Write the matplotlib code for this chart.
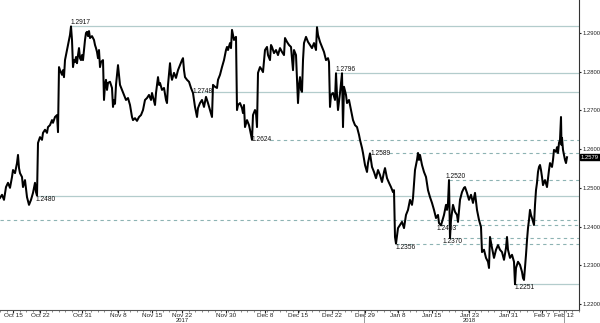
import matplotlib
matplotlib.use('Agg')
import matplotlib.pyplot as plt
import matplotlib.transforms as mtransforms
import numpy as np

plt.rcParams['font.family'] = ['Liberation Sans', 'DejaVu Sans']

# chart time position (trading-time axis) and price
t = [0, 2, 4, 6, 8, 10, 12, 13, 15, 17, 18, 19, 20, 22, 23, 25, 27, 29, 31, 33, 35, 36, 37,
     38, 40, 42, 43, 45, 47, 48, 50, 52, 53, 55, 57, 58, 59, 60, 62, 63, 64, 65, 66, 67, 68, 69, 70,
     71, 72, 73, 74, 75, 76, 77, 78, 79, 80, 81, 82, 83, 84, 85, 86, 87, 88, 89, 90, 92, 94, 95, 96,
     97, 98, 99, 100, 101, 103, 104, 105, 106, 107, 108, 110, 112, 113, 114, 115, 116, 117, 118, 119,
     120, 122, 124, 126, 128, 130, 132, 133, 135, 137, 139, 141, 143, 145, 147, 149, 151, 152, 153,
     155, 156, 158, 159, 160, 162, 164, 166, 167, 168, 170, 171, 172, 174, 176, 178, 180, 182, 183,
     184, 185, 187, 189, 191, 193, 195, 197, 198,
     200, 202, 204, 206, 208, 210, 212, 213, 215, 217, 218, 220, 222, 224, 226, 227, 228, 230, 231,
     232, 233, 234, 235, 236, 237, 238, 240, 242, 243, 244, 245, 247, 249, 250, 252, 253, 255, 256,
     257, 258, 260, 262, 263, 265, 267, 268, 270, 271, 272, 274, 276, 278, 280, 282, 284, 285, 287,
     289, 291, 293, 294, 296, 298, 299, 300, 301, 302, 303, 304, 306, 308, 310, 312, 314, 316, 317,
     318, 320, 322, 324, 326, 328, 329, 330, 331, 333, 335, 336, 337, 338, 340, 342, 343, 344, 346,
     347, 349, 351, 353, 355, 357, 359, 360, 362, 363, 365, 367, 368, 370, 372, 374, 376, 378, 380,
     382, 384, 385, 387, 389, 391, 393, 394, 395, 396, 398, 400, 402, 404, 406, 408, 410, 412, 413,
     415, 417, 418, 419, 420, 422, 424, 426, 428, 430, 432, 434, 436, 438, 439, 441, 442, 444, 446,
     447, 448, 449, 450, 451, 453, 455, 457, 458, 460, 462, 464, 465, 467, 469, 471, 473, 475, 477,
     479, 481, 482, 484, 486, 488, 489, 490, 492, 494, 496, 498, 500, 502, 504, 506, 507, 508, 510,
     512, 514, 515, 516, 518, 520, 522, 523, 524, 526, 527, 528, 529, 530, 531, 532, 534, 535, 536,
     537, 538, 539, 540, 541, 542, 543, 545, 547, 548, 549, 550, 552, 553, 554, 556, 557, 558, 559,
     560, 561, 561.5, 562, 563, 564, 565, 566, 567]

price = [1.2474, 1.2482, 1.2469, 1.2502, 1.2513, 1.2500, 1.2528, 1.2546, 1.2538, 1.2564, 1.2585,
         1.2551, 1.2538, 1.2528, 1.2502, 1.2520, 1.2476, 1.2456, 1.2469, 1.2487, 1.2513, 1.2489, 1.2480,
         1.2616, 1.2631, 1.2624, 1.2642, 1.2650, 1.2642, 1.2657, 1.2662, 1.2675, 1.2668, 1.2683, 1.2688,
         1.2644, 1.2812, 1.2804, 1.2792, 1.2804, 1.2786, 1.2830, 1.2843, 1.2856, 1.2869, 1.2882, 1.2895,
         1.2917, 1.2882, 1.2812, 1.2830, 1.2825, 1.2838, 1.2822, 1.2843, 1.2861, 1.2835, 1.2830, 1.2843,
         1.2830, 1.2856, 1.2882, 1.2900, 1.2903, 1.2892, 1.2905, 1.2887, 1.2892, 1.2882, 1.2869, 1.2861,
         1.2851, 1.2835, 1.2856, 1.2812, 1.2825, 1.2830, 1.2727, 1.2766, 1.2779, 1.2753, 1.2771, 1.2774,
         1.2758, 1.2709, 1.2727, 1.2717, 1.2766, 1.2792, 1.2817, 1.2792,
         1.2766, 1.2753, 1.2740, 1.2727, 1.2732, 1.2714, 1.2683, 1.2675, 1.2680, 1.2673, 1.2683, 1.2688,
         1.2701, 1.2727, 1.2732, 1.2740, 1.2727, 1.2745, 1.2735,
         1.2714, 1.2745, 1.2786, 1.2766, 1.2771, 1.2753, 1.2758, 1.2727, 1.2719, 1.2766, 1.2822, 1.2792,
         1.2779, 1.2797, 1.2784, 1.2804, 1.2817, 1.2830, 1.2835,
         1.2804, 1.2786, 1.2779, 1.2774, 1.2758, 1.2745, 1.2709, 1.2683, 1.2706,
         1.2719, 1.2727, 1.2709, 1.2735, 1.2719, 1.2701, 1.2683, 1.2766, 1.2761, 1.2758, 1.2779, 1.2792,
         1.2812, 1.2830, 1.2856, 1.2864, 1.2856, 1.2874, 1.2861,
         1.2908, 1.2895, 1.2882, 1.2887, 1.2890, 1.2701, 1.2714, 1.2719, 1.2706, 1.2693, 1.2714, 1.2657,
         1.2675, 1.2662, 1.2650, 1.2624, 1.2688, 1.2701, 1.2693,
         1.2657, 1.2797, 1.2812, 1.2804, 1.2799, 1.2856, 1.2864, 1.2843, 1.2830, 1.2869, 1.2864, 1.2848,
         1.2856, 1.2843, 1.2861, 1.2851, 1.2843, 1.2887, 1.2877,
         1.2869, 1.2864, 1.2804, 1.2856, 1.2843, 1.2719, 1.2766, 1.2786, 1.2753, 1.2748, 1.2830, 1.2874,
         1.2890, 1.2877, 1.2869, 1.2861, 1.2874, 1.2856, 1.2915,
         1.2895, 1.2877, 1.2864, 1.2851, 1.2830, 1.2835, 1.2825, 1.2709, 1.2740, 1.2745, 1.2727, 1.2796,
         1.2740, 1.2701, 1.2745, 1.2796, 1.2657, 1.2761, 1.2740,
         1.2719, 1.2727, 1.2701, 1.2675, 1.2662, 1.2657, 1.2637, 1.2624, 1.2603, 1.2590, 1.2559, 1.2541,
         1.2564, 1.2589, 1.2554, 1.2541, 1.2525, 1.2546, 1.2533,
         1.2515, 1.2541, 1.2551, 1.2525, 1.2513, 1.2502, 1.2489, 1.2494, 1.2373, 1.2356, 1.2396, 1.2404,
         1.2412, 1.2396, 1.2430, 1.2443, 1.2469, 1.2456, 1.2474,
         1.2546, 1.2572, 1.2590, 1.2572, 1.2585, 1.2559, 1.2541, 1.2528, 1.2494, 1.2476, 1.2461, 1.2443,
         1.2422, 1.2430, 1.2409, 1.2403, 1.2412, 1.2430, 1.2456,
         1.2443, 1.2461, 1.2520, 1.2370, 1.2417, 1.2456, 1.2438, 1.2430, 1.2412, 1.2469, 1.2489, 1.2500,
         1.2502, 1.2487, 1.2469, 1.2482, 1.2461, 1.2487, 1.2443,
         1.2417, 1.2399, 1.2334, 1.2340, 1.2319, 1.2309, 1.2293, 1.2373, 1.2345, 1.2319, 1.2340, 1.2352,
         1.2340, 1.2334, 1.2314, 1.2345, 1.2373, 1.2340, 1.2319,
         1.2327, 1.2309, 1.2251, 1.2293, 1.2309, 1.2301, 1.2283, 1.2267, 1.2262, 1.2327, 1.2365, 1.2396,
         1.2417, 1.2443, 1.2430, 1.2422, 1.2404, 1.2456, 1.2494,
         1.2513, 1.2541, 1.2554, 1.2559, 1.2546, 1.2528, 1.2507, 1.2520, 1.2502, 1.2525, 1.2546, 1.2564,
         1.2554, 1.2572, 1.2598, 1.2593, 1.2605, 1.2590, 1.2616,
         1.2624, 1.2683, 1.2611, 1.2629, 1.2598, 1.2585, 1.2572, 1.2564, 1.2579]

last_price = 1.2579

# annotated levels: value, start on time axis, label position, line style, label placement
levels = [1.2917, 1.2796, 1.2748, 1.2624, 1.2589, 1.2520, 1.2480, 1.2416, 1.2403, 1.2370, 1.2356, 1.2251]
level_start = [71, 336, 193, 270, 389, 449, 37, 0, 441, 450, 396, 515]
level_label_t = [71, 336, 193, 252, 371, 446, 36, None, 437, 443, 396, 515]
level_solid = [True, True, True, False, False, False, True, False, False, False, False, True]
level_va = ['bottom', 'bottom', 'center', 'center', 'center', 'bottom', 'top', None, 'top', 'top', 'top', 'top']

tick_pos = [13, 40, 82, 118, 152, 182, 226, 265, 298, 332, 365, 398, 432, 469, 509, 542, 564]
tick_labels = ['Oct 15', 'Oct 22', 'Oct 31', 'Nov 8', 'Nov 15', 'Nov 22', 'Nov 30', 'Dec 8', 'Dec 15',
               'Dec 22', 'Dec 29', 'Jan 8', 'Jan 15', 'Jan 23', 'Jan 31', 'Feb 7', 'Feb 12']
yticks = [1.22, 1.23, 1.24, 1.25, 1.26, 1.27, 1.28, 1.29]
years = ['2017', '2018']
year_pos = [182, 469]
year_marks = [364, 564]

fig = plt.figure(figsize=(6, 3.23), dpi=100)
ax = fig.add_axes([0, 13 / 323, 579 / 600, 310 / 323])

solid_c = '#b3cccc'
dash_c = '#8db3b3'
for v, s, lt, solid, va in zip(levels, level_start, level_label_t, level_solid, level_va):
    if solid:
        ax.plot([s, 579], [v, v], color=solid_c, lw=0.9, zorder=1)
    else:
        ax.plot([s, 579], [v, v], color=dash_c, lw=0.8, ls=(0, (3, 3)), zorder=1)
    if lt is not None:
        ax.text(lt, v, '%.4f' % v, fontsize=4.8, va=va, ha='left', color='#111111', zorder=3)

ax.plot(t, price, color='black', lw=1.45, zorder=2)

ax.set_xlim(0, 579)
ax.set_ylim(1.21844, 1.298525)

ax.spines['top'].set_visible(False)
ax.spines['left'].set_visible(False)
ax.spines['right'].set_color('#333333')
ax.spines['bottom'].set_color('#555555')
ax.spines['right'].set_linewidth(0.8)
ax.spines['bottom'].set_linewidth(0.8)

ax.yaxis.tick_right()
ax.set_yticks(yticks)
ax.set_yticklabels(['%.4f' % v for v in yticks])
ax.tick_params(axis='y', labelsize=4.2, length=1.5, pad=0.7, colors='#222222')

ax.set_xticks(tick_pos)
ax.set_xticklabels(tick_labels)
ax.set_xticks(np.arange(0, 579, 6.5), minor=True)
ax.tick_params(axis='x', which='major', labelsize=4.6, length=2, pad=0.3, colors='#222222')
ax.tick_params(axis='x', which='minor', length=1.5, color='#777777')

# last price tag on the axis
ax.text(1.0035, last_price, '%.4f' % last_price,
        transform=mtransforms.blended_transform_factory(ax.transAxes, ax.transData),
        fontsize=4.2, color='white', va='center', ha='left',
        bbox=dict(boxstyle='square,pad=0.1', fc='black', ec='black'), clip_on=False)

trans = mtransforms.blended_transform_factory(ax.transData, ax.transAxes)
for yp, yl in zip(year_pos, years):
    fig.text(yp / 600, 0.001, yl, fontsize=4.2, ha='center', va='bottom', color='#222222')
for xm in year_marks:
    ax.plot([xm, xm], [0, -0.045], transform=trans, color='#888888', lw=0.6, clip_on=False)

fig.savefig('out.png', dpi=100)
